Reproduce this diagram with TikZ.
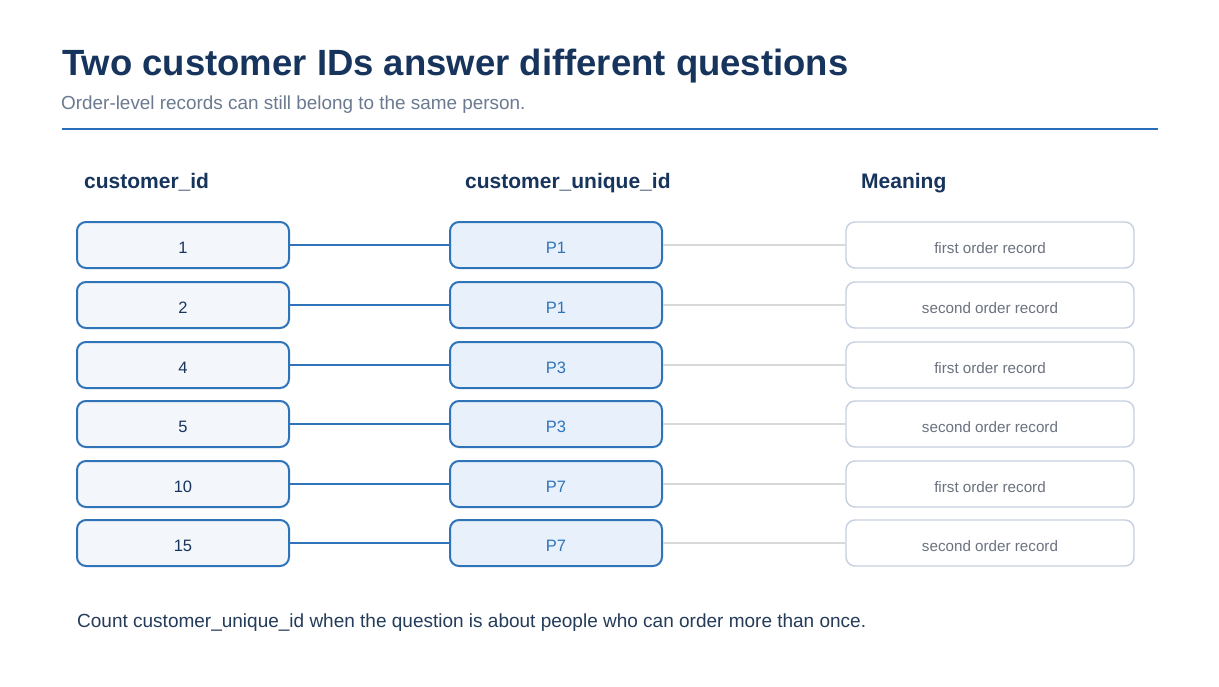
\documentclass[tikz,border=0pt]{standalone}
\usepackage{fontspec}
\setmainfont{Liberation Sans}
\definecolor{navy}{HTML}{17345C}
\definecolor{subgray}{HTML}{6B7A90}
\definecolor{rule}{HTML}{2A6EBB}
\definecolor{bblue}{HTML}{2F74B9}
\definecolor{lfill}{HTML}{F3F6FA}
\definecolor{mfill}{HTML}{E8F1FB}
\definecolor{rborder}{HTML}{C5D0E0}
\definecolor{rtext}{HTML}{6B7280}
\definecolor{cgray}{HTML}{D9D9D9}
\definecolor{foot}{HTML}{243B5A}
\begin{document}
\begin{tikzpicture}[x=1pt,y=-1pt,
  boxbase/.style={rounded corners=9pt,minimum height=46pt,inner sep=0pt,text height=16pt,text depth=0pt},
  lbox/.style={boxbase,draw=bblue,line width=2pt,fill=lfill,minimum width=212pt,text=navy,font=\fontsize{16.5}{19}\selectfont},
  mbox/.style={boxbase,draw=bblue,line width=2pt,fill=mfill,minimum width=212pt,text=bblue,font=\fontsize{16.5}{19}\selectfont},
  rbox/.style={boxbase,draw=rborder,line width=1.4pt,fill=white,minimum width=288pt,text=rtext,font=\fontsize{15.2}{18}\selectfont},
  hdr/.style={anchor=base west,text=navy,font=\fontsize{21}{24}\bfseries\selectfont,inner sep=0pt},
  lcon/.style={draw=bblue,line width=2pt},
  rcon/.style={draw=cgray,line width=2pt}]
\useasboundingbox (0,0) rectangle (1219,686);
\fill[white] (0,0) rectangle (1219,686);
\node[anchor=base west,inner sep=0pt,text=navy,font=\fontsize{36.5}{42}\bfseries\selectfont] (title) at (62,75) {Two customer IDs answer different questions};
\node[anchor=base west,inner sep=0pt,text=subgray,font=\fontsize{18.9}{22}\selectfont] (sub) at (61,109) {Order-level records can still belong to the same person.};
\coordinate (r1) at (62,129);
\coordinate (r2) at (1158,129);
\draw[rule,line width=2.8pt] (r1) -- (r2);
\node[hdr] (h1) at (84,188) {customer\_id};
\node[hdr] (h2) at (465,188) {customer\_unique\_id};
\node[hdr] (h3) at (861,188) {Meaning};
\foreach \i/\a/\b/\c/\y in {1/1/P1/first order record/245, 2/2/P1/second order record/305, 3/4/P3/first order record/365, 4/5/P3/second order record/424, 5/10/P7/first order record/484, 6/15/P7/second order record/543}{
  \node[lbox] (L\i) at (183,\y) {\a};
  \node[mbox] (M\i) at (556,\y) {\b};
  \node[rbox] (R\i) at (990,\y) {\c};
  \draw[lcon] (L\i.east) -- (M\i.west);
  \draw[rcon] (M\i.east) -- (R\i.west);
}
\node[anchor=base west,inner sep=0pt,text=foot,font=\fontsize{19}{22}\selectfont] (foot) at (77,627) {Count customer\_unique\_id when the question is about people who can order more than once.};
\end{tikzpicture}
\end{document}
